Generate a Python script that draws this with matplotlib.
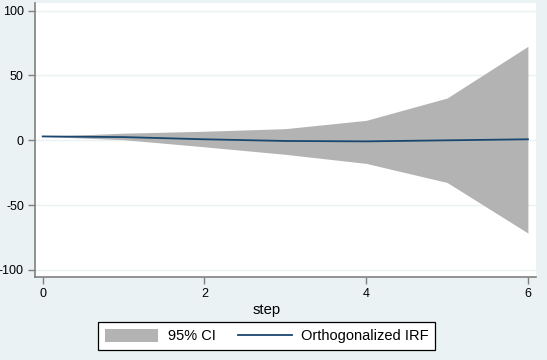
import matplotlib.pyplot as plt

plt.rcParams['font.family'] = ['Liberation Sans', 'DejaVu Sans']
plt.rcParams['axes.unicode_minus'] = False

# impulse response
steps = [0, 1, 2, 3, 4, 5, 6]
irf = [3.0, 2.5, 0.8, -0.5, -0.8, 0.0, 0.8]
ci_lower = [3.0, 0.5, -5.0, -10.8, -17.8, -32.5, -71.5]
ci_upper = [3.0, 5.5, 7.0, 9.0, 15.4, 32.6, 72.5]

xticks = [0, 2, 4, 6]
yticks = [-100, -50, 0, 50, 100]

bg = '#eaf2f3'
fig = plt.figure(figsize=(5.47, 3.6), dpi=100, facecolor=bg)
ax = fig.add_axes([35/547, 1-277/360, 501/547, 274/360])
ax.set_facecolor('white')

band = ax.fill_between(steps, ci_lower, ci_upper, color='#b3b3b3', lw=0, label='95% CI')
line, = ax.plot(steps, irf, color='#1a476f', lw=1.3, label='Orthogonalized IRF')

ax.set_xlim(-0.095, 6.10)
ax.set_ylim(-105.4, 105.9)
ax.set_xticks(xticks)
ax.set_yticks(yticks)
ax.grid(axis='y', color=bg, lw=1)
ax.set_axisbelow(True)

for s in ['top', 'right']:
    ax.spines[s].set_visible(False)
for s in ['left', 'bottom']:
    ax.spines[s].set_color('#808080')
    ax.spines[s].set_linewidth(1.2)
ax.tick_params(axis='both', length=5, width=1, color='#808080', labelsize=9, pad=3)

fig.text(266.5/547, 1-310/360, 'step', ha='center', va='center', fontsize=10.7)

fig.legend(handles=[band, line], loc='center', bbox_to_anchor=(266.5/547, 1-336/360),
           ncol=2, fontsize=10.5, frameon=True, fancybox=False, edgecolor='black',
           handlelength=3.7, handleheight=1.0, handletextpad=0.64, columnspacing=1.5,
           borderpad=0.45, framealpha=1)
leg = fig.legends[0]
leg.get_frame().set_linewidth(0.9)

fig.savefig('out.png', dpi=100, facecolor=bg)
